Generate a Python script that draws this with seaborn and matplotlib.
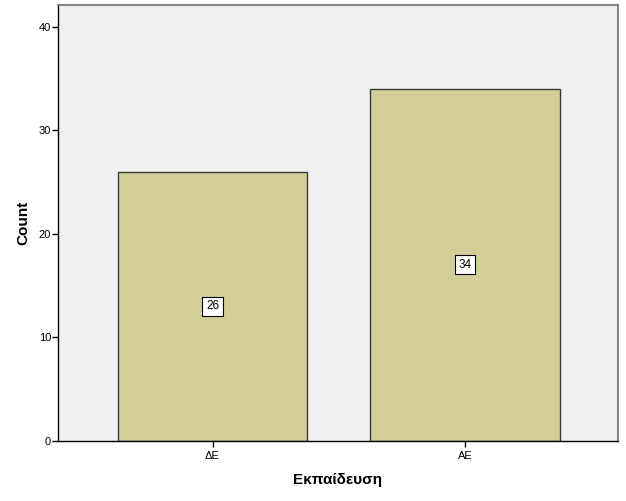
import pandas as pd
import matplotlib.pyplot as plt
import seaborn as sns

# Δεδομένα
categories = ["ΔΕ", "ΑΕ"]
counts = [26, 34]

df = pd.DataFrame({"Εκπαίδευση": categories, "Count": counts})

sns.set_style("white")
plt.rcParams['font.family'] = ['Liberation Sans', 'DejaVu Sans']
plt.rcParams['text.color'] = 'black'
plt.rcParams['axes.labelcolor'] = 'black'
plt.rcParams['xtick.color'] = 'black'
plt.rcParams['ytick.color'] = 'black'

fig = plt.figure(figsize=(6.26, 5.01), dpi=100)
ax = fig.add_axes([58 / 626, 60 / 501, 560 / 626, 436 / 501])
ax.set_facecolor("#F0F0F0")

sns.barplot(data=df, x="Εκπαίδευση", y="Count", color="#D3CE97",
            saturation=1, width=0.75, edgecolor="#3A3A3A", linewidth=1, ax=ax)

# etiquetas en el centro de cada barra
for i, v in enumerate(counts):
    ax.text(i, v / 2, str(v), ha="center", va="center", fontsize=8.5,
            bbox=dict(boxstyle="square,pad=0.3", fc="white", ec="black", lw=0.8))

ax.set_xlim(-0.612, 1.606)
ax.set_ylim(0, 42.1)
ax.set_yticks([0, 10, 20, 30, 40])
ax.tick_params(axis="both", bottom=True, left=True, labelsize=8, length=4,
               width=1, colors="black", direction="out")
ax.tick_params(axis="x", pad=3)
ax.tick_params(axis="y", pad=1)

for side in ["left", "bottom"]:
    ax.spines[side].set_color("black")
    ax.spines[side].set_linewidth(1)
for side in ["top", "right"]:
    ax.spines[side].set_visible(True)
    ax.spines[side].set_color("#707070")
    ax.spines[side].set_linewidth(1.2)

ax.set_xlabel("Εκπαίδευση", fontsize=11, fontweight="bold", labelpad=9)
ax.set_ylabel("Count", fontsize=11, fontweight="bold", labelpad=6)

plt.savefig("out.png", dpi=100)
